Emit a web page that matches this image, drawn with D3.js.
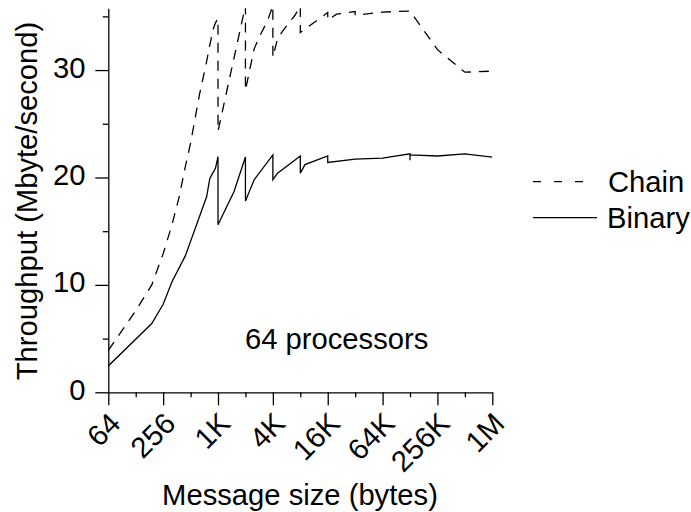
<!DOCTYPE html>
<html>
<head>
<meta charset="utf-8">
<script src="https://cdn.jsdelivr.net/npm/d3@7/dist/d3.min.js"></script>
<style>
  html, body { margin: 0; padding: 0; background: #fff; }
  text { font-family: "Liberation Sans", Arial, Helvetica, sans-serif; fill: #000; }
</style>
</head>
<body>
<svg id="chart" width="691" height="512"></svg>
<script>
// ---- data (message size in bytes, throughput in Mbyte/second) ----
const binarySizes = [64, 192, 256, 320, 448, 768, 832, 960, 1024, 1024, 1536, 2048, 2048, 2560, 4096, 4096, 4608, 8192, 8192, 9216, 16384, 16384, 32768, 65536, 131072, 131072, 131072, 262144, 524288, 1048576];
const binaryValues = [2.45, 6.4, 8.2, 10.3, 12.7, 18.2, 19.9, 20.85, 21.95, 15.6, 18.7, 21.9, 17.8, 19.8, 22.1, 19.8, 20.4, 22.0, 20.4, 21.2, 22.0, 21.4, 21.7, 21.8, 22.2, 21.6, 22.1, 22.0, 22.2, 21.9];

const chainSizes = [64, 128, 192, 256, 320, 384, 448, 512, 640, 768, 896, 960, 1024, 1024, 2048, 2048, 2304, 2560, 3072, 3584, 4096, 4096, 4608, 5120, 6144, 7168, 8192, 8192, 16384, 16384, 20480, 32768, 32768, 65536, 131072, 262144, 524288, 1048576];
const chainValues = [3.9, 7.6, 10.0, 12.9, 15.6, 18.2, 21.0, 23.2, 27.7, 30.8, 33.7, 34.4, 34.8, 24.3, 36.0, 28.1, 30.2, 32.0, 33.5, 34.6, 36.0, 31.2, 32.9, 33.5, 34.4, 35.1, 36.0, 33.5, 35.35, 34.65, 35.2, 35.45, 35.1, 35.4, 35.5, 31.9, 29.8, 29.9];

const xTickValues = [64, 128, 256, 512, 1024, 2048, 4096, 8192, 16384, 32768, 65536, 131072, 262144, 524288, 1048576];
const xTickLabels = ["64", "", "256", "", "1K", "", "4K", "", "16K", "", "64K", "", "256K", "", "1M"];
const yTickValues = [0, 5, 10, 15, 20, 25, 30, 35];
const yTickLabels = ["0", "", "10", "", "20", "", "30", ""];

const seriesNames = ["Chain", "Binary"];
const xTitle = "Message size (bytes)";
const yTitle = "Throughput (Mbyte/second)";
const annotation = "64 processors";

// ---- layout ----
const svg = d3.select("#chart");
const pLeft = 108.3, pRight = 492.3, pTop = 8.3, pBottom = 392.3;
const fs = 29.2;

const x = d3.scaleLog().base(2).domain([64, 1048576]).range([pLeft, pRight]);
const y = d3.scaleLinear().domain([0, 35.75]).range([pBottom, pTop]);

svg.append("defs").append("clipPath").attr("id", "plotclip")
  .append("rect").attr("x", pLeft).attr("y", pTop).attr("width", pRight - pLeft).attr("height", pBottom - pTop);

// ---- axes ----
const majorX = xTickValues.filter((d, i) => xTickLabels[i] !== "");
const minorX = xTickValues.filter((d, i) => xTickLabels[i] === "");
const majorY = yTickValues.filter((d, i) => yTickLabels[i] !== "");
const minorY = yTickValues.filter((d, i) => yTickLabels[i] === "");

function styleAxis(g) {
  g.selectAll("path.domain").attr("stroke", "#000").attr("stroke-width", 1.3);
  g.selectAll(".tick line").attr("stroke", "#000").attr("stroke-width", 1.3);
  g.selectAll(".tick text").remove();
}

const gxMinor = svg.append("g").attr("transform", `translate(0,${pBottom})`)
  .call(d3.axisBottom(x).tickValues(minorX).tickSize(5).tickSizeOuter(0).tickFormat(""));
styleAxis(gxMinor);
gxMinor.select("path.domain").remove();
const gx = svg.append("g").attr("transform", `translate(0,${pBottom})`)
  .call(d3.axisBottom(x).tickValues(majorX).tickSize(13).tickSizeOuter(0).tickFormat(""));
styleAxis(gx);

const gyMinor = svg.append("g").attr("transform", `translate(${pLeft},0)`)
  .call(d3.axisLeft(y).tickValues(minorY).tickSize(5.5).tickSizeOuter(0).tickFormat(""));
styleAxis(gyMinor);
gyMinor.select("path.domain").remove();
const gy = svg.append("g").attr("transform", `translate(${pLeft},0)`)
  .call(d3.axisLeft(y).tickValues(majorY).tickSize(13).tickSizeOuter(0).tickFormat(""));
styleAxis(gy);

// x tick labels (rotated)
svg.append("g").selectAll("text")
  .data(xTickValues.map((v, i) => ({ v, l: xTickLabels[i] })).filter(d => d.l !== ""))
  .join("text")
  .attr("transform", d => `translate(${x(d.v) + 14},${pBottom + 33}) rotate(-45)`)
  .attr("text-anchor", "end")
  .attr("font-size", fs)
  .text(d => d.l);

// y tick labels
svg.append("g").selectAll("text")
  .data(yTickValues.map((v, i) => ({ v, l: yTickLabels[i] })).filter(d => d.l !== ""))
  .join("text")
  .attr("x", 85.5)
  .attr("y", d => y(d.v) + 7.5)
  .attr("text-anchor", "end")
  .attr("font-size", fs)
  .text(d => d.l);

// axis titles
svg.append("text")
  .attr("x", 300).attr("y", 505)
  .attr("text-anchor", "middle").attr("font-size", fs)
  .text(xTitle);
svg.append("text")
  .attr("transform", `translate(37,201) rotate(-90)`)
  .attr("text-anchor", "middle").attr("font-size", fs)
  .text(yTitle);

// ---- lines ----
const line = d3.line().x(d => x(d[0])).y(d => y(d[1]));
const plot = svg.append("g").attr("clip-path", "url(#plotclip)");
plot.append("path")
  .datum(chainSizes.map((s, i) => [s, chainValues[i]]))
  .attr("d", line).attr("fill", "none").attr("stroke", "#000")
  .attr("stroke-width", 1.3).attr("stroke-dasharray", "10,8");
plot.append("path")
  .datum(binarySizes.map((s, i) => [s, binaryValues[i]]))
  .attr("d", line).attr("fill", "none").attr("stroke", "#000")
  .attr("stroke-width", 1.3);

// annotation
svg.append("text").attr("x", 245).attr("y", 349).attr("font-size", fs).text(annotation);

// ---- legend ----
const legend = svg.append("g");
legend.append("line").attr("x1", 533).attr("x2", 587).attr("y1", 181.7).attr("y2", 181.7)
  .attr("stroke", "#000").attr("stroke-width", 1.3).attr("stroke-dasharray", "8,13");
legend.append("line").attr("x1", 533).attr("x2", 597).attr("y1", 217.7).attr("y2", 217.7)
  .attr("stroke", "#000").attr("stroke-width", 1.3);
legend.append("text").attr("x", 608).attr("y", 191.7).attr("font-size", fs).text(seriesNames[0]);
legend.append("text").attr("x", 607).attr("y", 227.7).attr("font-size", fs).text(seriesNames[1]);
</script>
</body>
</html>
